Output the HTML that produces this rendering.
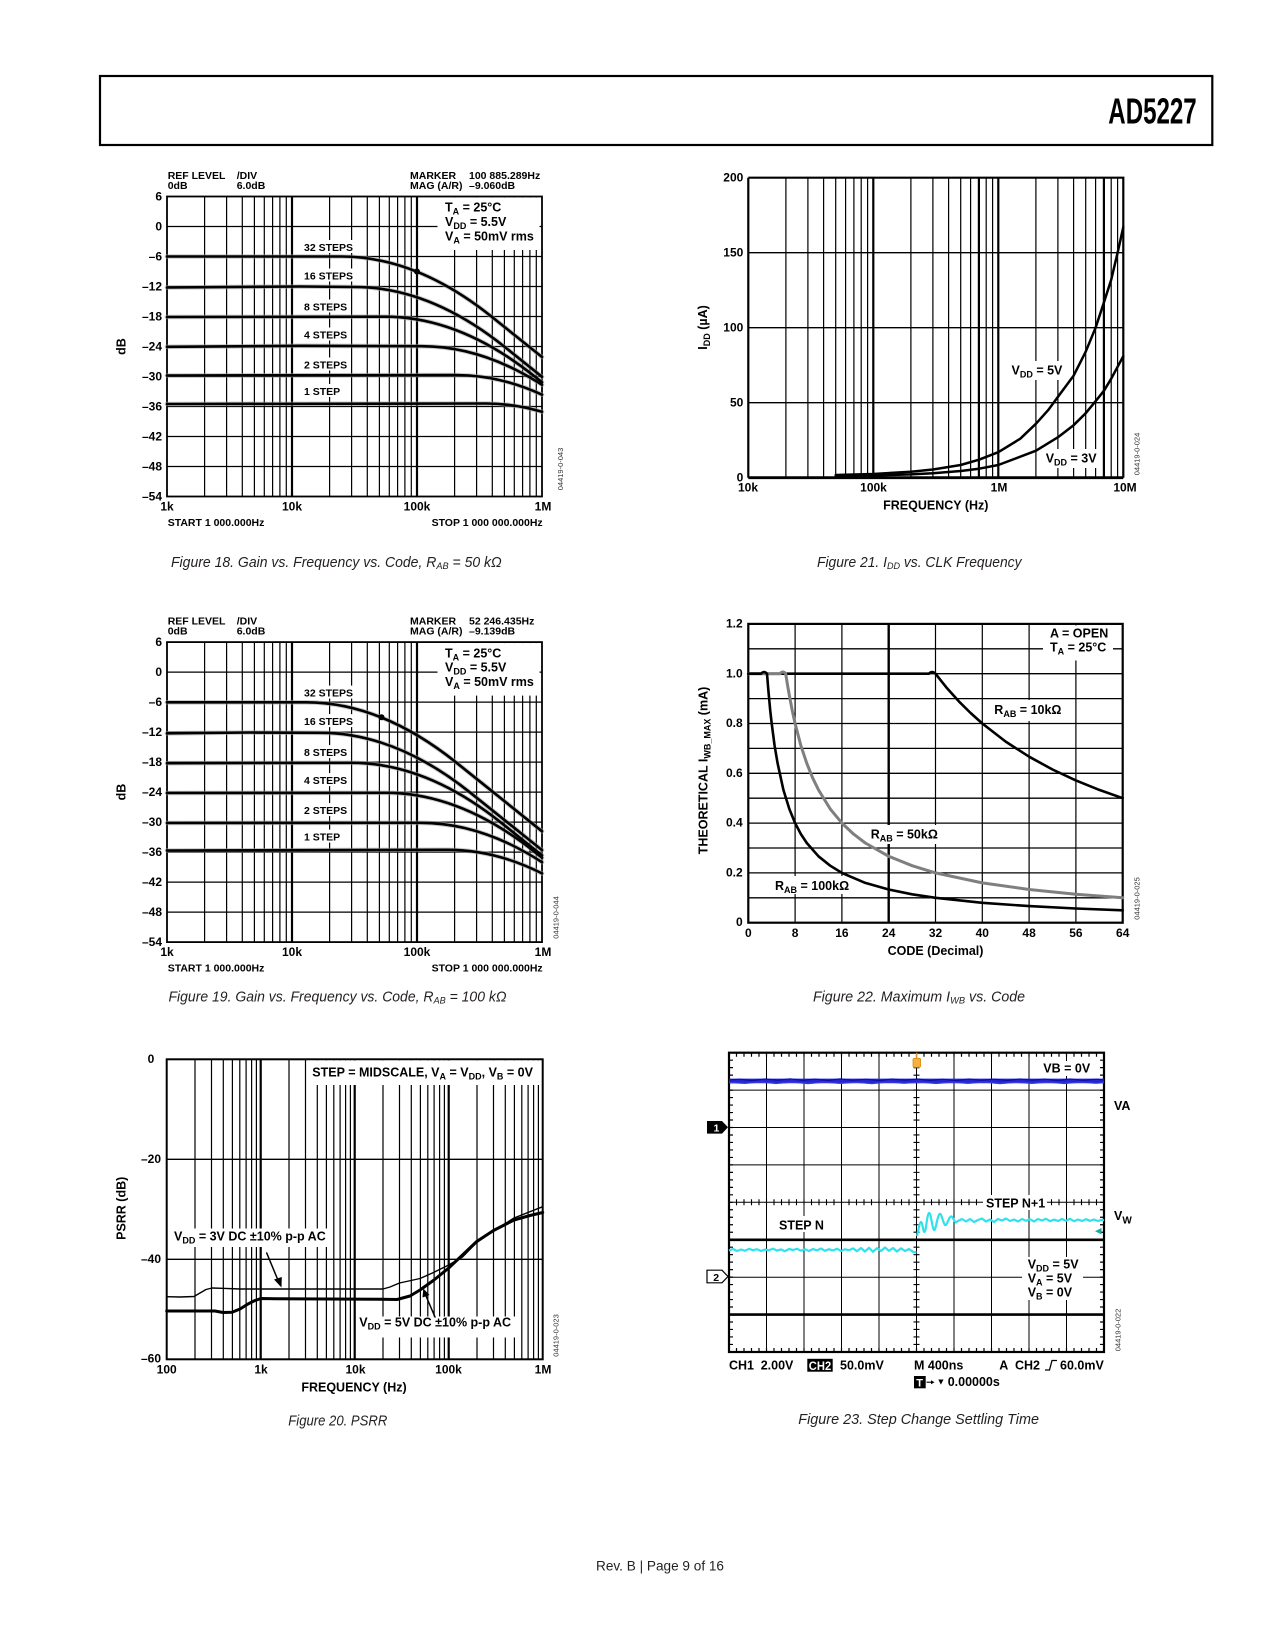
<!DOCTYPE html>
<html>
<head>
<meta charset="utf-8">
<style>
html,body{margin:0;padding:0;background:#fff;}
svg{display:block;}
.t{font-family:"Liberation Sans",Arial,Helvetica,sans-serif;font-weight:bold;fill:#000;}
.cap{font-family:"Liberation Sans",Arial,Helvetica,sans-serif;font-style:italic;fill:#231f20;font-size:14.5px;}
.id{font-family:"Liberation Sans",Arial,Helvetica,sans-serif;fill:#333;font-size:7.5px;}
</style>
</head>
<body>
<svg width="1275" height="1650" viewBox="0 0 1275 1650" xmlns="http://www.w3.org/2000/svg">
<rect x="0" y="0" width="1275" height="1650" fill="#fff"/>
<defs>
  <g id="grid18" fill="none" stroke="#000">
    <path stroke-width="1.2" d="M204.6 196.5V496.5M226.6 196.5V496.5M242.3 196.5V496.5M254.4 196.5V496.5M264.3 196.5V496.5M272.6 196.5V496.5M279.9 196.5V496.5M286.3 196.5V496.5M329.6 196.5V496.5M351.6 196.5V496.5M367.3 196.5V496.5M379.4 196.5V496.5M389.3 196.5V496.5M397.6 196.5V496.5M404.9 196.5V496.5M411.3 196.5V496.5M454.6 196.5V496.5M476.6 196.5V496.5M492.3 196.5V496.5M504.4 196.5V496.5M514.3 196.5V496.5M522.6 196.5V496.5M529.9 196.5V496.5M536.3 196.5V496.5"/>
    <path stroke-width="1.3" d="M167 226.5H542M167 256.5H542M167 286.5H542M167 316.5H542M167 346.5H542M167 376.5H542M167 406.5H542M167 436.5H542M167 466.5H542"/>
    <path stroke-width="2.2" d="M292 196.5V496.5M417 196.5V496.5"/>
    <rect x="167" y="196.5" width="375" height="300" stroke-width="1.8"/>
  </g>
</defs>

<!-- Header -->
<rect x="100" y="76" width="1112.3" height="69" fill="none" stroke="#000" stroke-width="2.2"/>
<text class="t" x="1108.3" y="123.3" font-size="36" textLength="88.4" lengthAdjust="spacingAndGlyphs">AD5227</text>

<!-- ============ FIGURE 18 ============ -->
<use href="#grid18"/>
<rect x="437.5" y="197.5" width="102" height="52.5" fill="#fff"/>
<g fill="#fff">
  <rect x="302" y="240" width="54" height="13"/>
  <rect x="302" y="268.5" width="54" height="13"/>
  <rect x="302" y="299.5" width="48" height="13"/>
  <rect x="302" y="327.5" width="48" height="13"/>
  <rect x="302" y="357.5" width="48" height="13"/>
  <rect x="302" y="384" width="40" height="13"/>
</g>
<g fill="none" stroke-linecap="round" stroke-linejoin="round">
  <g stroke="#a0a0a0" stroke-width="4.6" opacity="0.55">
    <path d="M167,256.5 L341.4,256.5 Q416.4,256.5 491.4,316.5 L542,357"/>
    <path d="M167,287.5 L300,286.5 L354.8,287 Q429.8,287 504.8,347 L542,376.8"/>
    <path d="M167,317 L385,316.7 Q460,316.7 535,376.7 L542,382.3"/>
    <path d="M167,346.8 L300,345.8 L421.6,346.2 Q481.8,346.2 542,384.8"/>
    <path d="M167,375.5 L456,375 Q499,375 542,394.7"/>
    <path d="M167,404 L486.2,403.5 Q514.1,403.5 542,411.8"/>
  </g>
  <g stroke="#000" stroke-width="2.6">
    <path d="M167,256.5 L341.4,256.5 Q416.4,256.5 491.4,316.5 L542,357"/>
    <path d="M167,287.5 L300,286.5 L354.8,287 Q429.8,287 504.8,347 L542,376.8"/>
    <path d="M167,317 L385,316.7 Q460,316.7 535,376.7 L542,382.3"/>
    <path d="M167,346.8 L300,345.8 L421.6,346.2 Q481.8,346.2 542,384.8"/>
    <path d="M167,375.5 L456,375 Q499,375 542,394.7"/>
    <path d="M167,404 L486.2,403.5 Q514.1,403.5 542,411.8"/>
  </g>
</g>
<circle cx="417" cy="271.5" r="3" fill="#000"/>
<g class="t" font-size="10.5">
  <text x="167.7" y="179">REF LEVEL</text>
  <text x="167.7" y="189">0dB</text>
  <text x="236.7" y="179">/DIV</text>
  <text x="236.7" y="189">6.0dB</text>
  <text x="410" y="179">MARKER</text>
  <text x="469" y="179">100 885.289Hz</text>
  <text x="410" y="189">MAG (A/R)</text>
  <text x="469" y="189">–9.060dB</text>
  <text x="304" y="251">32 STEPS</text>
  <text x="304" y="279.3">16 STEPS</text>
  <text x="304" y="310.3">8 STEPS</text>
  <text x="304" y="338.3">4 STEPS</text>
  <text x="304" y="368.3">2 STEPS</text>
  <text x="304" y="395">1 STEP</text>
  <text x="167.7" y="526">START 1 000.000Hz</text>
  <text x="542.7" y="526" text-anchor="end">STOP 1 000 000.000Hz</text>
</g>
<g class="t" font-size="12" text-anchor="end">
  <text x="162" y="200.5">6</text>
  <text x="162" y="230.5">0</text>
  <text x="162" y="260.5">–6</text>
  <text x="162" y="290.5">–12</text>
  <text x="162" y="320.5">–18</text>
  <text x="162" y="350.5">–24</text>
  <text x="162" y="380.5">–30</text>
  <text x="162" y="410.5">–36</text>
  <text x="162" y="440.5">–42</text>
  <text x="162" y="470.5">–48</text>
  <text x="162" y="500.5">–54</text>
</g>
<g class="t" font-size="12" text-anchor="middle">
  <text x="167" y="510.5">1k</text>
  <text x="292" y="510.5">10k</text>
  <text x="417" y="510.5">100k</text>
  <text x="543" y="510.5">1M</text>
</g>
<text class="t" font-size="12.5" text-anchor="middle" transform="translate(125.3,346.5) rotate(-90)">dB</text>
<g class="t" font-size="12.5">
  <text x="445" y="211.7">T<tspan font-size="9" dy="3">A</tspan><tspan dy="-3"> = 25°C</tspan></text>
  <text x="445" y="226">V<tspan font-size="9" dy="3">DD</tspan><tspan dy="-3"> = 5.5V</tspan></text>
  <text x="445" y="240.3">V<tspan font-size="9" dy="3">A</tspan><tspan dy="-3"> = 50mV rms</tspan></text>
</g>
<text class="id" transform="translate(563,469) rotate(-90)" text-anchor="middle">04419-0-043</text>
<text class="cap" x="171" y="567" textLength="330.7" lengthAdjust="spacingAndGlyphs">Figure 18. Gain vs. Frequency vs. Code, R<tspan font-size="9.5" dy="2">AB</tspan><tspan dy="-2"> = 50 kΩ</tspan></text>

<!-- ============ FIGURE 19 ============ -->
<use href="#grid18" y="445.6"/>
<g transform="translate(0,445.6)">
  <rect x="437.5" y="197.5" width="102" height="52.5" fill="#fff"/>
  <g fill="#fff">
    <rect x="302" y="240" width="54" height="13"/>
    <rect x="302" y="268.5" width="54" height="13"/>
    <rect x="302" y="299.5" width="48" height="13"/>
    <rect x="302" y="327.5" width="48" height="13"/>
    <rect x="302" y="357.5" width="48" height="13"/>
    <rect x="302" y="384" width="40" height="13"/>
  </g>
</g>
<g fill="none" stroke-linecap="round" stroke-linejoin="round">
  <g stroke="#a0a0a0" stroke-width="4.6" opacity="0.55">
    <path d="M167,702.3 L306,702.3 Q381,702.3 456,762.3 L542,831.3"/>
    <path d="M167,733.3 L250,732.5 L320.5,732.8 Q395.5,732.8 470.5,792.8 L542,850.1"/>
    <path d="M167,763.2 L351.3,762.8 Q426.3,762.8 501.3,822.8 L542,855.4"/>
    <path d="M167,793 L385.8,792.8 Q460.8,792.8 535.8,852.8 L542,857.8"/>
    <path d="M167,823 L420.4,822.8 Q481.2,822.8 542,862.2"/>
    <path d="M167,850.5 L447.9,849.8 Q494.9,849.8 542,873.4"/>
  </g>
  <g stroke="#000" stroke-width="2.6">
    <path d="M167,702.3 L306,702.3 Q381,702.3 456,762.3 L542,831.3"/>
    <path d="M167,733.3 L250,732.5 L320.5,732.8 Q395.5,732.8 470.5,792.8 L542,850.1"/>
    <path d="M167,763.2 L351.3,762.8 Q426.3,762.8 501.3,822.8 L542,855.4"/>
    <path d="M167,793 L385.8,792.8 Q460.8,792.8 535.8,852.8 L542,857.8"/>
    <path d="M167,823 L420.4,822.8 Q481.2,822.8 542,862.2"/>
    <path d="M167,850.5 L447.9,849.8 Q494.9,849.8 542,873.4"/>
  </g>
</g>
<circle cx="381.5" cy="717.3" r="3" fill="#000"/>
<g class="t" font-size="10.5">
  <text x="167.7" y="624.6">REF LEVEL</text>
  <text x="167.7" y="634.6">0dB</text>
  <text x="236.7" y="624.6">/DIV</text>
  <text x="236.7" y="634.6">6.0dB</text>
  <text x="410" y="624.6">MARKER</text>
  <text x="469" y="624.6">52 246.435Hz</text>
  <text x="410" y="634.6">MAG (A/R)</text>
  <text x="469" y="634.6">–9.139dB</text>
  <text x="304" y="696.6">32 STEPS</text>
  <text x="304" y="724.9">16 STEPS</text>
  <text x="304" y="755.9">8 STEPS</text>
  <text x="304" y="783.9">4 STEPS</text>
  <text x="304" y="813.9">2 STEPS</text>
  <text x="304" y="840.6">1 STEP</text>
  <text x="167.7" y="971.6">START 1 000.000Hz</text>
  <text x="542.7" y="971.6" text-anchor="end">STOP 1 000 000.000Hz</text>
</g>
<g class="t" font-size="12" text-anchor="end">
  <text x="162" y="646.1">6</text>
  <text x="162" y="676.1">0</text>
  <text x="162" y="706.1">–6</text>
  <text x="162" y="736.1">–12</text>
  <text x="162" y="766.1">–18</text>
  <text x="162" y="796.1">–24</text>
  <text x="162" y="826.1">–30</text>
  <text x="162" y="856.1">–36</text>
  <text x="162" y="886.1">–42</text>
  <text x="162" y="916.1">–48</text>
  <text x="162" y="946.1">–54</text>
</g>
<g class="t" font-size="12" text-anchor="middle">
  <text x="167" y="956.1">1k</text>
  <text x="292" y="956.1">10k</text>
  <text x="417" y="956.1">100k</text>
  <text x="543" y="956.1">1M</text>
</g>
<text class="t" font-size="12.5" text-anchor="middle" transform="translate(125.3,792.1) rotate(-90)">dB</text>
<g class="t" font-size="12.5">
  <text x="445" y="657.3">T<tspan font-size="9" dy="3">A</tspan><tspan dy="-3"> = 25°C</tspan></text>
  <text x="445" y="671.6">V<tspan font-size="9" dy="3">DD</tspan><tspan dy="-3"> = 5.5V</tspan></text>
  <text x="445" y="685.9">V<tspan font-size="9" dy="3">A</tspan><tspan dy="-3"> = 50mV rms</tspan></text>
</g>
<text class="id" transform="translate(558.3,917.5) rotate(-90)" text-anchor="middle">04419-0-044</text>
<text class="cap" x="168.5" y="1001.5" textLength="338" lengthAdjust="spacingAndGlyphs">Figure 19. Gain vs. Frequency vs. Code, R<tspan font-size="9.5" dy="2">AB</tspan><tspan dy="-2"> = 100 kΩ</tspan></text>

<!-- ============ FIGURE 20 ============ -->
<g fill="none" stroke="#000">
  <path stroke-width="1.2" d="M195 1059.3V1359.3M211.5 1059.3V1359.3M223.3 1059.3V1359.3M232.4 1059.3V1359.3M239.8 1059.3V1359.3M246.1 1059.3V1359.3M251.6 1059.3V1359.3M256.4 1059.3V1359.3M289 1059.3V1359.3M305.5 1059.3V1359.3M317.3 1059.3V1359.3M326.4 1059.3V1359.3M333.8 1059.3V1359.3M340.1 1059.3V1359.3M345.6 1059.3V1359.3M350.4 1059.3V1359.3M383 1059.3V1359.3M399.5 1059.3V1359.3M411.3 1059.3V1359.3M420.4 1059.3V1359.3M427.8 1059.3V1359.3M434.1 1059.3V1359.3M439.6 1059.3V1359.3M444.4 1059.3V1359.3M477 1059.3V1359.3M493.5 1059.3V1359.3M505.3 1059.3V1359.3M514.4 1059.3V1359.3M521.8 1059.3V1359.3M528.1 1059.3V1359.3M533.6 1059.3V1359.3M538.4 1059.3V1359.3"/>
  <path stroke-width="2.2" d="M260.7 1059.3V1359.3M354.7 1059.3V1359.3M448.7 1059.3V1359.3"/>
  <path stroke-width="1.4" d="M166.7 1159.3H542.7M166.7 1259.3H542.7"/>
  <rect x="166.7" y="1059.3" width="376" height="300" stroke-width="2"/>
</g>
<rect x="308" y="1060.4" width="233.5" height="24.6" fill="#fff"/>
<rect x="172" y="1228.5" width="160" height="18.5" fill="#fff"/>
<rect x="357" y="1316.5" width="158" height="21" fill="#fff"/>
<g fill="none" stroke="#000" stroke-linejoin="round" stroke-linecap="round">
  <path stroke-width="1.4" d="M166.7,1296.7 L180,1297 L194,1296.5 L200,1293 L206,1289.5 L212,1288 L222,1288.3 L240,1289 L383,1289 L390,1287 L399.5,1283 L411,1280.5 L420,1278.5 L432.4,1273 L448.7,1265 L462.5,1257 L476.7,1242.5 L493.5,1231 L514,1218 L542.7,1206.7"/>
  <path stroke-width="3" d="M166.7,1311 L215,1311 L223,1312.5 L232,1312.3 L240,1309 L248,1304 L255,1300.5 L261,1298.5 L275,1298.8 L380,1299.2 L397,1299.5 L410,1296 L420,1290 L434,1280 L448.7,1268 L462.5,1255 L476.7,1241.5 L493.5,1230.5 L514,1220 L530,1215.5 L542.7,1212.5"/>
  <path stroke-width="1.5" d="M266.7,1253 L277.5,1279"/>
  <path stroke-width="1.5" d="M435,1317 L426,1296"/>
</g>
<path d="M274,1279.5 L281.5,1287.5 L281.8,1277 Z" fill="#000"/>
<path d="M422.5,1297.5 L423.3,1288.5 L429.5,1295 Z" fill="#000"/>
<g class="t" font-size="12" text-anchor="middle">
  <text x="151" y="1063">0</text>
  <text x="151" y="1163">–20</text>
  <text x="151" y="1263">–40</text>
  <text x="151" y="1362.5">–60</text>
  <text x="166.7" y="1373.3">100</text>
  <text x="261" y="1373.3">1k</text>
  <text x="355.5" y="1373.3">10k</text>
  <text x="448.5" y="1373.3">100k</text>
  <text x="543" y="1373.3">1M</text>
</g>
<text class="t" font-size="12.5" x="354" y="1391.7" text-anchor="middle">FREQUENCY (Hz)</text>
<text class="t" font-size="12.5" text-anchor="middle" transform="translate(125.5,1208.3) rotate(-90)">PSRR (dB)</text>
<g class="t" font-size="12.5">
  <text x="312.3" y="1076.7">STEP = MIDSCALE, V<tspan font-size="9" dy="3">A</tspan><tspan dy="-3"> = V</tspan><tspan font-size="9" dy="3">DD</tspan><tspan dy="-3">, V</tspan><tspan font-size="9" dy="3">B</tspan><tspan dy="-3"> = 0V</tspan></text>
  <text x="174" y="1240.7">V<tspan font-size="9" dy="3">DD</tspan><tspan dy="-3"> = 3V DC ±10% p-p AC</tspan></text>
  <text x="359.3" y="1326.7">V<tspan font-size="9" dy="3">DD</tspan><tspan dy="-3"> = 5V DC ±10% p-p AC</tspan></text>
</g>
<text class="id" transform="translate(558.3,1335.5) rotate(-90)" text-anchor="middle">04419-0-023</text>
<text class="cap" x="288.3" y="1425.3" textLength="99" lengthAdjust="spacingAndGlyphs">Figure 20. PSRR</text>

<!-- ============ FIGURE 21 ============ -->
<g fill="none" stroke="#000">
  <path stroke-width="1.2" d="M785.9 177.7V477.7M807.9 177.7V477.7M823.6 177.7V477.7M835.7 177.7V477.7M845.6 177.7V477.7M853.9 177.7V477.7M861.2 177.7V477.7M867.6 177.7V477.7M910.9 177.7V477.7M932.9 177.7V477.7M948.6 177.7V477.7M960.7 177.7V477.7M970.6 177.7V477.7M986.2 177.7V477.7M992.6 177.7V477.7M1035.9 177.7V477.7M1057.9 177.7V477.7M1073.6 177.7V477.7M1085.7 177.7V477.7M1095.6 177.7V477.7M1111.2 177.7V477.7M1117.6 177.7V477.7"/>
  <path stroke-width="2.2" d="M873.3 177.7V477.7M998.3 177.7V477.7M978.9 177.7V477.7M1103.9 177.7V477.7"/>
  <path stroke-width="1.4" d="M748.3 252.7H1123.3M748.3 327.7H1123.3M748.3 402.7H1123.3"/>
  <path stroke-width="2.2" d="M748.3 177.7H1123.3V477.7M748.3 177.7V477.7"/>
  <path stroke-width="2.8" d="M748.3 477.7H1123.3"/>
</g>
<rect x="1009" y="361" width="56" height="19" fill="#fff"/>
<rect x="1043" y="449" width="57" height="19" fill="#fff"/>
<g fill="none" stroke="#000" stroke-width="2.5" stroke-linejoin="round" stroke-linecap="round">
  <path d="M835.7,475 L873.3,474 L910.9,471.7 L932.9,469.5 L960.7,465 L979,459.7 L998.3,452.2 L1020.3,438.7 L1036,423.7 L1048.1,410.2 L1058,396.7 L1073.6,375.7 L1085.7,351.7 L1095.6,327.7 L1104,302.2 L1111.2,279.7 L1117.6,252.7 L1123.3,227.2"/>
  <path d="M835.7,476.2 L873.3,475.5 L910.9,474.4 L932.9,473.2 L960.7,471 L979,468.7 L998.3,465 L1036,450.7 L1058,437.2 L1073.6,425.2 L1085.7,413.2 L1095.6,401.2 L1104,390.7 L1111.2,378.7 L1123.3,356.2"/>
</g>
<g class="t" font-size="12" text-anchor="end">
  <text x="743.3" y="181.7">200</text>
  <text x="743.3" y="256.7">150</text>
  <text x="743.3" y="331.7">100</text>
  <text x="743.3" y="406.7">50</text>
  <text x="743.3" y="481.5">0</text>
</g>
<g class="t" font-size="12" text-anchor="middle">
  <text x="748" y="491.7">10k</text>
  <text x="873.5" y="491.7">100k</text>
  <text x="999" y="491.7">1M</text>
  <text x="1125" y="491.7">10M</text>
</g>
<text class="t" font-size="12.5" x="935.8" y="509.5" text-anchor="middle">FREQUENCY (Hz)</text>
<text class="t" font-size="12.5" text-anchor="middle" transform="translate(707,327.5) rotate(-90)">I<tspan font-size="9" dy="3">DD</tspan><tspan dy="-3"> (µA)</tspan></text>
<g class="t" font-size="12.5">
  <text x="1011.5" y="374.5">V<tspan font-size="9" dy="3">DD</tspan><tspan dy="-3"> = 5V</tspan></text>
  <text x="1045.7" y="462.3">V<tspan font-size="9" dy="3">DD</tspan><tspan dy="-3"> = 3V</tspan></text>
</g>
<text class="id" transform="translate(1139.3,454) rotate(-90)" text-anchor="middle">04419-0-024</text>
<text class="cap" x="817" y="567" textLength="204.5" lengthAdjust="spacingAndGlyphs">Figure 21. I<tspan font-size="9.5" dy="2">DD</tspan><tspan dy="-2"> vs. CLK Frequency</tspan></text>

<!-- ============ FIGURE 22 ============ -->
<g fill="none" stroke="#000">
  <path stroke-width="1.2" d="M795.1 623.9V922.7M841.9 623.9V922.7M935.5 623.9V922.7M982.3 623.9V922.7M1029.1 623.9V922.7M1075.9 623.9V922.7"/>
  <path stroke-width="2.4" d="M888.7 623.9V922.7"/>
  <path stroke-width="1.3" d="M748.3 648.8H1122.7M748.3 673.7H1122.7M748.3 698.6H1122.7M748.3 723.5H1122.7M748.3 748.4H1122.7M748.3 773.3H1122.7M748.3 798.2H1122.7M748.3 823.1H1122.7M748.3 848H1122.7M748.3 872.9H1122.7M748.3 897.8H1122.7"/>
  <rect x="748.3" y="623.9" width="374.4" height="298.8" stroke-width="2.2"/>
</g>
<rect x="1043" y="625.5" width="70" height="35" fill="#fff"/>
<rect x="991" y="700" width="80" height="21" fill="#fff"/>
<rect x="868" y="825" width="73" height="19" fill="#fff"/>
<rect x="772" y="876" width="79" height="18" fill="#fff"/>
<g fill="none" stroke-linejoin="round" stroke-linecap="round">
  <path stroke="#000" stroke-width="2.6" d="M748.3,673.7 L929,673.7 Q932,670.5 935.5,673.7 L941.4,681.2 L947.2,688.4 L958.9,701.4 L970.6,713 L982.3,723.5 L1005.7,741.6 L1029.1,756.7 L1052.5,769.5 L1075.9,780.4 L1099.3,789.9 L1122.7,798.2"/>
  <path stroke="#7f7f7f" stroke-width="3" d="M748.3,673.7 L780,673.7 Q783,670.3 785.7,673.7 L787.5,684.9 L789.3,695.1 L792.2,710.3 L795.1,723.5 L800.9,745.7 L806.8,763.3 L812.6,777.8 L818.5,789.9 L830.2,808.9 L841.9,823.1 L853.6,834.1 L865.3,843 L888.7,856.3 L912.1,865.7 L935.5,872.9 L982.3,882.9 L1029.1,889.5 L1075.9,894.3 L1122.7,897.8"/>
  <path stroke="#000" stroke-width="2.6" d="M748.3,673.7 L761,673.7 Q764,670.3 767,673.7 L768.2,688.4 L768.8,695.1 L770.2,710.3 L771.7,723.5 L774.6,745.7 L777.6,763.3 L783.4,789.9 L789.3,808.9 L795.1,823.1 L800.9,834.1 L806.8,843 L818.5,856.3 L830.2,865.7 L841.9,872.9 L865.3,882.9 L888.7,889.5 L912.1,894.3 L935.5,897.8 L982.3,902.8 L1029.1,906.1 L1075.9,908.5 L1122.7,910.3"/>
</g>
<g class="t" font-size="12" text-anchor="end">
  <text x="742.7" y="627.5">1.2</text>
  <text x="742.7" y="677.3">1.0</text>
  <text x="742.7" y="727.1">0.8</text>
  <text x="742.7" y="776.9">0.6</text>
  <text x="742.7" y="826.6">0.4</text>
  <text x="742.7" y="876.4">0.2</text>
  <text x="742.7" y="926">0</text>
</g>
<g class="t" font-size="12" text-anchor="middle">
  <text x="748.3" y="936.9">0</text>
  <text x="795.1" y="936.9">8</text>
  <text x="841.9" y="936.9">16</text>
  <text x="888.7" y="936.9">24</text>
  <text x="935.5" y="936.9">32</text>
  <text x="982.3" y="936.9">40</text>
  <text x="1029.1" y="936.9">48</text>
  <text x="1075.9" y="936.9">56</text>
  <text x="1122.7" y="936.9">64</text>
</g>
<text class="t" font-size="12.5" x="935.5" y="955" text-anchor="middle">CODE (Decimal)</text>
<text class="t" font-size="12.5" text-anchor="middle" transform="translate(707.5,770.5) rotate(-90)">THEORETICAL I<tspan font-size="9" dy="3">WB_MAX</tspan><tspan dy="-3"> (mA)</tspan></text>
<g class="t" font-size="12.5">
  <text x="1050" y="637.3">A = OPEN</text>
  <text x="1050" y="651.7">T<tspan font-size="9" dy="3">A</tspan><tspan dy="-3"> = 25°C</tspan></text>
  <text x="994.3" y="714">R<tspan font-size="9" dy="3">AB</tspan><tspan dy="-3"> = 10kΩ</tspan></text>
  <text x="870.7" y="838.7">R<tspan font-size="9" dy="3">AB</tspan><tspan dy="-3"> = 50kΩ</tspan></text>
  <text x="775" y="890">R<tspan font-size="9" dy="3">AB</tspan><tspan dy="-3"> = 100kΩ</tspan></text>
</g>
<text class="id" transform="translate(1139.3,898.5) rotate(-90)" text-anchor="middle">04419-0-025</text>
<text class="cap" x="813" y="1001.5" textLength="212" lengthAdjust="spacingAndGlyphs">Figure 22. Maximum I<tspan font-size="9.5" dy="2">WB</tspan><tspan dy="-2"> vs. Code</tspan></text>

<!-- ============ FIGURE 23 ============ -->
<g fill="none" stroke="#000">
  <path stroke-width="1" d="M766.5 1052.7V1352M804 1052.7V1352M841.5 1052.7V1352M879 1052.7V1352M916.5 1052.7V1352M954 1052.7V1352M991.5 1052.7V1352M1029 1052.7V1352M1066.5 1052.7V1352"/>
  <path stroke-width="1" d="M729 1090.1H1104M729 1127.5H1104M729 1164.9H1104M729 1202.3H1104M729 1277.2H1104"/>
  <path stroke-width="2.6" d="M729 1239.8H1104M729 1314.6H1104"/>
  <!-- tick marks -->
  <path stroke-width="4" stroke-dasharray="1.2 6.3" stroke-dashoffset="0.6" d="M729 1054.7H1104M729 1350H1104"/>
  <path stroke-width="4" stroke-dasharray="1.2 6.28" stroke-dashoffset="0.6" d="M731 1052.7V1352M1102 1052.7V1352"/>
  <path stroke-width="6" stroke-dasharray="1.1 6.4" stroke-dashoffset="0.55" d="M729 1202.3H1104"/>
  <path stroke-width="6" stroke-dasharray="1.1 6.38" stroke-dashoffset="0.55" d="M916.5 1052.7V1352"/>
  <rect x="729" y="1052.7" width="375" height="299.3" stroke-width="2.2"/>
</g>
<rect x="1040" y="1061" width="60" height="15" fill="#fff"/>
<rect x="983" y="1195" width="64" height="15" fill="#fff"/>
<rect x="777" y="1216" width="50" height="16" fill="#fff"/>
<rect x="1022" y="1257" width="61" height="43" fill="#fff"/>
<!-- blue trace -->
<path d="M729 1080.9H1104" stroke="#2525d6" stroke-width="4.6" fill="none"/>
<path d="M729,1080 L740,1079.2 L752,1080.6 L765,1079 L778,1080.2 L790,1078.8 L803,1080.4 L815,1079.1 L828,1080.5 L840,1078.9 L853,1080.3 L866,1079.2 L879,1080.6 L892,1079 L905,1080.1 L918,1079 L930,1080.5 L943,1079.2 L956,1080.7 L969,1079 L981,1080.3 L994,1079.1 L1007,1080.5 L1020,1079 L1032,1080.2 L1045,1079.1 L1058,1080.6 L1070,1079 L1083,1080.4 L1096,1079.2 L1104,1080" stroke="#0c0cb0" stroke-width="1.2" fill="none"/>
<path d="M729,1082.5 L745,1083.4 L760,1082 L776,1083.5 L792,1082.2 L808,1083.6 L824,1082.1 L840,1083.4 L856,1082.3 L872,1083.6 L888,1082 L904,1083.3 L920,1082.2 L936,1083.5 L952,1082.1 L968,1083.4 L984,1082 L1000,1083.6 L1016,1082.3 L1032,1083.4 L1048,1082.1 L1064,1083.5 L1080,1082.2 L1096,1083.3 L1104,1082.6" stroke="#3a3ae0" stroke-width="1.2" fill="none"/>
<!-- orange trigger marker -->
<path d="M916.7 1052.7V1058" stroke="#e8a020" stroke-width="1.2"/>
<rect x="913" y="1058.3" width="7.6" height="9" rx="1.5" fill="#f4b040" stroke="#d98c10" stroke-width="0.8"/>
<!-- cyan traces -->
<g fill="none" stroke="#2fe1ed" stroke-width="2.2" stroke-linejoin="round">
  <path d="M729,1250.5 L733,1249 L737,1251 L741,1249.5 L745,1250.8 L749,1248.8 L753,1250.2 L757,1249.2 L761,1251 L765,1249.5 L769,1250.3 L773,1248.6 L777,1250.6 L781,1249.4 L785,1251.2 L789,1249 L793,1250 L797,1248.8 L801,1250.7 L805,1249.3 L809,1251 L813,1249 L817,1250.4 L821,1248.5 L825,1250.8 L829,1249.2 L833,1250.5 L837,1248.7 L841,1251 L845,1249.3 L849,1250.2 L853,1248.4 L857,1251.2 L861,1248 L865,1251.5 L869,1247.8 L873,1251.8 L877,1248.2 L881,1251 L885,1247.5 L889,1250.8 L893,1248 L897,1251.5 L901,1248.3 L905,1251 L909,1249 L913,1251.8 L916.5,1252.5"/>
  <path d="M917,1236 C918.5,1230 919.5,1222 921,1222 C922.5,1222 923,1232 924.5,1232 C926,1232 927,1214 929,1213 C931,1212 932,1228 934,1230 C936,1231 937,1216 939.5,1214 C941.5,1212.5 943,1223 945,1225 C947,1226.5 948.5,1217 951,1216.5 C953,1216 954,1222 956,1222.5 L958,1221 L962,1219 L966,1221.5 L970,1219 L974,1222 L978,1220 L982,1218.5 L986,1221.5 L990,1219.5 L994,1222 L998,1219 L1002,1220.5 L1006,1218.5 L1010,1221 L1014,1219.5 L1018,1221.5 L1022,1219 L1026,1220.8 L1030,1219.2 L1034,1221.5 L1038,1219 L1042,1220.5 L1046,1218.8 L1050,1221.2 L1054,1219.6 L1058,1221 L1062,1219 L1066,1220.7 L1070,1218.8 L1074,1221.2 L1078,1219.5 L1082,1221 L1086,1219.2 L1090,1220.8 L1094,1219.5 L1098,1221 L1102,1219.7 L1104,1220.5"/>
</g>
<path d="M1095,1231.2 L1101.5,1228 L1101.5,1234.4 Z" fill="#1aa6a6"/>
<!-- channel markers -->
<path d="M707,1121 L722,1121 L728,1127.3 L722,1133.6 L707,1133.6 Z" fill="#000"/>
<text class="t" x="713.5" y="1131.6" font-size="10.5" style="fill:#fff">1</text>
<path d="M707,1270.2 L722,1270.2 L728,1276.5 L722,1282.8 L707,1282.8 Z" fill="#fff" stroke="#000" stroke-width="1.2"/>
<text class="t" x="713.3" y="1280.8" font-size="10.5">2</text>
<g class="t" font-size="12.5">
  <text x="1043.3" y="1072.7">VB = 0V</text>
  <text x="1114" y="1110">VA</text>
  <text x="1114" y="1220">V<tspan font-size="10" dy="3.5">W</tspan></text>
  <text x="986" y="1207.3">STEP N+1</text>
  <text x="779" y="1229.3">STEP N</text>
  <text x="1027.7" y="1268.3">V<tspan font-size="9" dy="3">DD</tspan><tspan dy="-3"> = 5V</tspan></text>
  <text x="1027.7" y="1282.3">V<tspan font-size="9" dy="3">A</tspan><tspan dy="-3"> = 5V</tspan></text>
  <text x="1027.7" y="1296.7">V<tspan font-size="9" dy="3">B</tspan><tspan dy="-3"> = 0V</tspan></text>
  <text x="729" y="1369.3">CH1</text>
  <text x="760.7" y="1369.3">2.00V</text>
  <text x="840" y="1369.3">50.0mV</text>
  <text x="914" y="1369.3">M 400ns</text>
  <text x="999.3" y="1369.3">A</text>
  <text x="1015" y="1369.3">CH2</text>
  <text x="1060" y="1369.3">60.0mV</text>
  <text x="947.7" y="1386">0.00000s</text>
</g>
<rect x="807.3" y="1358.8" width="25.4" height="12.9" fill="#000"/>
<text class="t" x="808.8" y="1369.8" font-size="11.5" textLength="22.4" lengthAdjust="spacingAndGlyphs" style="fill:#fff">CH2</text>
<path d="M1045,1370 H1049.5 L1052,1360.5 H1057" fill="none" stroke="#000" stroke-width="1.3"/>
<rect x="914" y="1376" width="11.7" height="12.3" fill="#000"/>
<text class="t" x="916.3" y="1386.3" font-size="11" style="fill:#fff">T</text>
<path d="M926.5,1382.2 H931.5" stroke="#000" stroke-width="1.1"/>
<path d="M931,1380.2 L934.5,1382.2 L931,1384.2 Z" fill="#000"/>
<path d="M938.3,1379.5 L943.5,1379.5 L940.9,1384.6 Z" fill="#000"/>
<text class="id" transform="translate(1120.7,1330) rotate(-90)" text-anchor="middle">04419-0-022</text>
<text class="cap" x="798.3" y="1424" textLength="240.7" lengthAdjust="spacingAndGlyphs">Figure 23. Step Change Settling Time</text>

<!-- Footer -->
<text x="596" y="1570.7" font-family="'Liberation Sans',Arial,sans-serif" font-size="14" fill="#231f20" textLength="128" lengthAdjust="spacingAndGlyphs">Rev. B | Page 9 of 16</text>
</svg>
</body>
</html>
